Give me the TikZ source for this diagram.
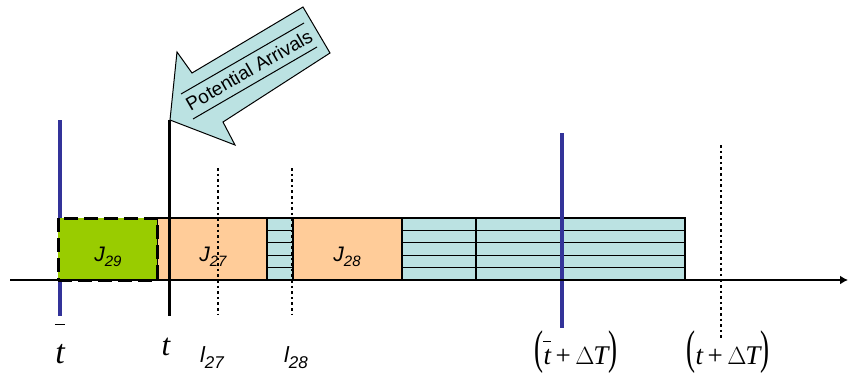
\documentclass[tikz,border=0pt]{standalone}
\usepackage{fontspec}
\setsansfont{Liberation Sans}
\newfontfamily\eqfont{Liberation Serif}
\usetikzlibrary{arrows.meta, positioning, calc}

\definecolor{jobgreen}{HTML}{99CC00}
\definecolor{joborange}{HTML}{FFCC99}
\definecolor{idlecyan}{HTML}{BBE2E2}
\definecolor{markblue}{HTML}{333399}

\newcommand{\joblab}[2]{{\sffamily\itshape\fontsize{21}{23}\selectfont #1\raisebox{-5pt}{\fontsize{15}{15}\selectfont #2}}}
\newcommand{\leadlab}[2]{{\sffamily\itshape\fontsize{22}{24}\selectfont #1\raisebox{-6pt}{\fontsize{17}{17}\selectfont #2}}}
% italic t with a bar lifted #1 above its baseline
\newcommand{\barredt}[1]{\hbox{\ooalign{\itshape t\cr\hidewidth\raisebox{#1}{\rule{0.3em}{1.4pt}}\hidewidth\cr}}}
\newcommand{\tallparen}[1]{\raisebox{0.03em}{\scalebox{1}[1.75]{#1}}}

\begin{document}
\begin{tikzpicture}[x=1pt, y=-1pt,
  jobbox/.style={rectangle, draw=black, line width=1.1pt, fill=joborange,
                 inner sep=0pt, outer sep=0pt, minimum height=62pt},
  idlebox/.style={jobbox, fill=idlecyan},
  donebox/.style={jobbox, fill=jobgreen, line width=3pt, dash pattern=on 14pt off 6pt},
  joblabel/.style={anchor=base, inner sep=0pt},
  timelab/.style={anchor=base, inner sep=0pt, font=\eqfont\fontsize{27}{30}\selectfont},
  bluebar/.style={markblue, line width=4pt},
  nowbar/.style={black, line width=3pt},
  dotbar/.style={black, line width=2.6pt, dash pattern=on 2.6pt off 3pt},
  timeaxis/.style={line width=1.8pt, -{Latex[length=8pt,width=9pt]}}
]
  \useasboundingbox (0,0) rectangle (849,378);

  % blue mark at t-bar goes under the done job
  \coordinate (tbar top) at (60,120);
  \coordinate (tbar bot) at (60,316);
  \draw[bluebar] (tbar top) -- (tbar bot);

  % schedule row
  \node[jobbox, minimum width=110pt] (j27) at (212,249) {};
  \node[idlebox, minimum width=26pt, right=0pt of j27] (gap1) {};
  \node[jobbox, minimum width=109pt, right=0pt of gap1] (j28) {};
  \node[idlebox, minimum width=74pt, right=0pt of j28] (gap2) {};
  \node[idlebox, minimum width=209pt, right=0pt of gap2] (gap3) {};
  \node[donebox, minimum width=99pt, left=0pt of j27] (j29) {};

  \foreach \blk in {gap1, gap2, gap3}
    \foreach \k in {1,...,4}
      \draw[line width=1.1pt] ($(\blk.north west)!\k/5!(\blk.south west)$)
        -- ($(\blk.north east)!\k/5!(\blk.south east)$);

  \node[joblabel] (j29lab) at (108,261) {\joblab{J}{29}};
  \node[joblabel] (j27lab) at (213,261) {\joblab{J}{27}};
  \node[joblabel] (j28lab) at (347,261) {\joblab{J}{28}};

  % time marks
  \coordinate (now top) at (169,120);
  \coordinate (now bot) at (169,316);
  \coordinate (l27 top) at (218,168);
  \coordinate (l27 bot) at (218,315);
  \coordinate (l28 top) at (292,168);
  \coordinate (l28 bot) at (292,315);
  \coordinate (tbarT top) at (562,133);
  \coordinate (tbarT bot) at (562,328);
  \coordinate (tT top) at (721,145);
  \coordinate (tT bot) at (721,340);

  \draw[nowbar] (now top) -- (now bot);
  \draw[dotbar] (l27 top) -- (l27 bot);
  \draw[dotbar] (l28 top) -- (l28 bot);
  \draw[bluebar] (tbarT top) -- (tbarT bot);
  \draw[dotbar] (tT top) -- (tT bot);

  \coordinate (axis from) at (10,280);
  \coordinate (axis to) at (848,280);
  \draw[timeaxis] (axis from) -- (axis to);

  \node[timelab, font=\eqfont\fontsize{34}{36}\selectfont] (tbarlab) at (60,363) {\barredt{38pt}};
  \node[timelab, font=\eqfont\fontsize{31}{34}\selectfont] (nowlab) at (166,355) {\itshape t};
  \node[joblabel] (l27lab) at (212,362) {\leadlab{l}{27}};
  \node[joblabel] (l28lab) at (296,362) {\leadlab{l}{28}};
  \node[timelab] (tbarTlab) at (576,364)
    {\tallparen{(}\barredt{22pt}\,+\,$\Delta$\kern-1pt{\itshape T}\tallparen{)}};
  \node[timelab] (tTlab) at (728,364)
    {\tallparen{(}{\itshape t}\,+\,$\Delta$\kern-1pt{\itshape T}\tallparen{)}};

  % potential arrivals block arrow
  \draw[fill=idlecyan, line width=1pt, line join=miter]
    (170,120) -- (177,52) -- (192,73) -- (303,7) -- (330,53)
    -- (223,122) -- (235,145) -- cycle;
  \draw[line width=1pt] (181,94) -- (304,23);
  \draw[line width=1pt] (193,119) -- (317,47);
  \node[rotate=30, inner sep=0pt, font=\sffamily\fontsize{19}{21}\selectfont]
    (arrivals) at (249,70) {Potential Arrivals};
\end{tikzpicture}
\end{document}
